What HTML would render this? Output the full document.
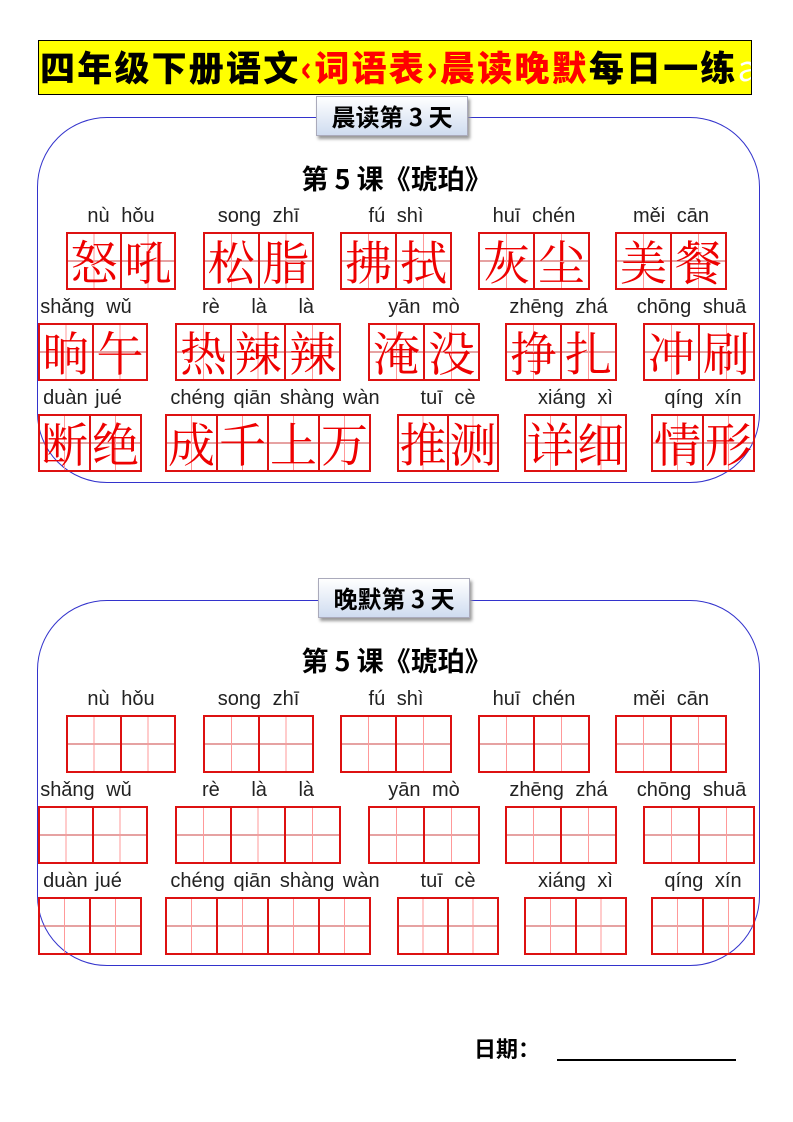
<!DOCTYPE html>
<html><head><meta charset="utf-8"><style>
*{margin:0;padding:0;box-sizing:border-box}
body{width:793px;height:1122px;background:#fff;position:relative;overflow:hidden;font-family:"Liberation Sans","Noto Sans CJK SC",sans-serif}
.a{position:absolute}
.title{left:38px;top:40px;width:714px;height:55px;background:#ff0;border:1.5px solid #000;font-family:"Noto Sans CJK SC",sans-serif;font-weight:900;font-size:35px;line-height:52px;padding-left:1px;white-space:nowrap;letter-spacing:2.2px;overflow:hidden}
.r{color:#f00}
.lab{width:152px;height:40px;border:1px solid #aab;background:linear-gradient(#fff,#cfdcf0);box-shadow:2px 3px 3px #999;font-family:"Noto Sans CJK SC",sans-serif;font-weight:700;font-size:24px;line-height:38px;text-align:center;z-index:2}
.frame{left:37px;width:723px;height:366px;border:1px solid #33c;border-radius:70px}
.les{left:0;width:793px;text-align:center;font-family:"Noto Sans CJK SC",sans-serif;font-weight:700;font-size:27px;line-height:32px}
.py{font-size:20px;color:#222;text-align:center;white-space:nowrap;line-height:22px;word-spacing:6px}
.g{display:flex;border:2px solid #d11;height:58px}
.c{flex:1;border-left:2px solid #d11;position:relative;color:#e00;font-family:"Noto Serif CJK SC",serif;font-size:47px;line-height:54px;text-align:center;
background:linear-gradient(to right,transparent calc(50% - .5px),#f99 calc(50% - .5px),#f99 calc(50% + .5px),transparent calc(50% + .5px)),linear-gradient(to bottom,transparent calc(50% - .5px),#c44 calc(50% - .5px),#c44 calc(50% + .5px),transparent calc(50% + .5px))}
.c:first-child{border-left:none}
</style></head><body>
<div class="a title">四年级下册语文<span class="r">‹词语表›晨读晚默</span>每日一练<span style="color:#fff;font-weight:400">a</span></div>

<div class="a frame" style="top:117px"></div>
<div class="a lab" style="left:316px;top:96px">晨读第 3 天</div>
<div class="a les" style="top:162px">第 5 课《琥珀》</div>

<div class="a py" style="left:66px;width:110px;top:205px">nù hǒu</div>
<div class="a py" style="left:203px;width:111px;top:205px">song zhī</div>
<div class="a py" style="left:340px;width:112px;top:205px">fú shì</div>
<div class="a py" style="left:478px;width:112px;top:205px">huī chén</div>
<div class="a py" style="left:615px;width:112px;top:205px">měi cān</div>
<div class="a g" style="left:66px;top:232px;width:110px"><div class="c">怒</div><div class="c">吼</div></div>
<div class="a g" style="left:203px;top:232px;width:111px"><div class="c">松</div><div class="c">脂</div></div>
<div class="a g" style="left:340px;top:232px;width:112px"><div class="c">拂</div><div class="c">拭</div></div>
<div class="a g" style="left:478px;top:232px;width:112px"><div class="c">灰</div><div class="c">尘</div></div>
<div class="a g" style="left:615px;top:232px;width:112px"><div class="c">美</div><div class="c">餐</div></div>

<div class="a py" style="left:30px;width:112px;top:296px">shǎng wǔ</div>
<div class="a py" style="left:175px;width:166px;top:296px;word-spacing:26px">rè là là</div>
<div class="a py" style="left:368px;width:112px;top:296px">yān mò</div>
<div class="a py" style="left:500px;width:117px;top:296px">zhēng zhá</div>
<div class="a py" style="left:628px;width:127px;top:296px">chōng shuā</div>
<div class="a g" style="left:38px;top:323px;width:110px"><div class="c">晌</div><div class="c">午</div></div>
<div class="a g" style="left:175px;top:323px;width:166px"><div class="c">热</div><div class="c">辣</div><div class="c">辣</div></div>
<div class="a g" style="left:368px;top:323px;width:112px"><div class="c">淹</div><div class="c">没</div></div>
<div class="a g" style="left:505px;top:323px;width:112px"><div class="c">挣</div><div class="c">扎</div></div>
<div class="a g" style="left:643px;top:323px;width:112px"><div class="c">冲</div><div class="c">刷</div></div>

<div class="a py" style="left:30px;width:105px;top:387px;word-spacing:2px">duàn jué</div>
<div class="a py" style="left:158px;width:234px;top:387px;word-spacing:3px">chéng qiān shàng wàn</div>
<div class="a py" style="left:397px;width:102px;top:387px">tuī cè</div>
<div class="a py" style="left:524px;width:103px;top:387px">xiáng xì</div>
<div class="a py" style="left:651px;width:104px;top:387px">qíng xín</div>
<div class="a g" style="left:38px;top:414px;width:104px"><div class="c">断</div><div class="c">绝</div></div>
<div class="a g" style="left:165px;top:414px;width:206px"><div class="c">成</div><div class="c">千</div><div class="c">上</div><div class="c">万</div></div>
<div class="a g" style="left:397px;top:414px;width:102px"><div class="c">推</div><div class="c">测</div></div>
<div class="a g" style="left:524px;top:414px;width:103px"><div class="c">详</div><div class="c">细</div></div>
<div class="a g" style="left:651px;top:414px;width:104px"><div class="c">情</div><div class="c">形</div></div>

<div class="a frame" style="top:600px"></div>
<div class="a lab" style="left:318px;top:578px">晚默第 3 天</div>
<div class="a les" style="top:644px">第 5 课《琥珀》</div>

<div class="a py" style="left:66px;width:110px;top:688px">nù hǒu</div>
<div class="a py" style="left:203px;width:111px;top:688px">song zhī</div>
<div class="a py" style="left:340px;width:112px;top:688px">fú shì</div>
<div class="a py" style="left:478px;width:112px;top:688px">huī chén</div>
<div class="a py" style="left:615px;width:112px;top:688px">měi cān</div>
<div class="a g" style="left:66px;top:715px;width:110px"><div class="c"></div><div class="c"></div></div>
<div class="a g" style="left:203px;top:715px;width:111px"><div class="c"></div><div class="c"></div></div>
<div class="a g" style="left:340px;top:715px;width:112px"><div class="c"></div><div class="c"></div></div>
<div class="a g" style="left:478px;top:715px;width:112px"><div class="c"></div><div class="c"></div></div>
<div class="a g" style="left:615px;top:715px;width:112px"><div class="c"></div><div class="c"></div></div>

<div class="a py" style="left:30px;width:112px;top:779px">shǎng wǔ</div>
<div class="a py" style="left:175px;width:166px;top:779px;word-spacing:26px">rè là là</div>
<div class="a py" style="left:368px;width:112px;top:779px">yān mò</div>
<div class="a py" style="left:500px;width:117px;top:779px">zhēng zhá</div>
<div class="a py" style="left:628px;width:127px;top:779px">chōng shuā</div>
<div class="a g" style="left:38px;top:806px;width:110px"><div class="c"></div><div class="c"></div></div>
<div class="a g" style="left:175px;top:806px;width:166px"><div class="c"></div><div class="c"></div><div class="c"></div></div>
<div class="a g" style="left:368px;top:806px;width:112px"><div class="c"></div><div class="c"></div></div>
<div class="a g" style="left:505px;top:806px;width:112px"><div class="c"></div><div class="c"></div></div>
<div class="a g" style="left:643px;top:806px;width:112px"><div class="c"></div><div class="c"></div></div>

<div class="a py" style="left:30px;width:105px;top:870px;word-spacing:2px">duàn jué</div>
<div class="a py" style="left:158px;width:234px;top:870px;word-spacing:3px">chéng qiān shàng wàn</div>
<div class="a py" style="left:397px;width:102px;top:870px">tuī cè</div>
<div class="a py" style="left:524px;width:103px;top:870px">xiáng xì</div>
<div class="a py" style="left:651px;width:104px;top:870px">qíng xín</div>
<div class="a g" style="left:38px;top:897px;width:104px"><div class="c"></div><div class="c"></div></div>
<div class="a g" style="left:165px;top:897px;width:206px"><div class="c"></div><div class="c"></div><div class="c"></div><div class="c"></div></div>
<div class="a g" style="left:397px;top:897px;width:102px"><div class="c"></div><div class="c"></div></div>
<div class="a g" style="left:524px;top:897px;width:103px"><div class="c"></div><div class="c"></div></div>
<div class="a g" style="left:651px;top:897px;width:104px"><div class="c"></div><div class="c"></div></div>

<div class="a" style="left:474px;top:1033px;font-family:'Noto Sans CJK SC',sans-serif;font-weight:700;font-size:22px;line-height:30px">日期：</div>
<div class="a" style="left:557px;top:1059px;width:179px;height:2px;background:#000"></div>
</body></html>
